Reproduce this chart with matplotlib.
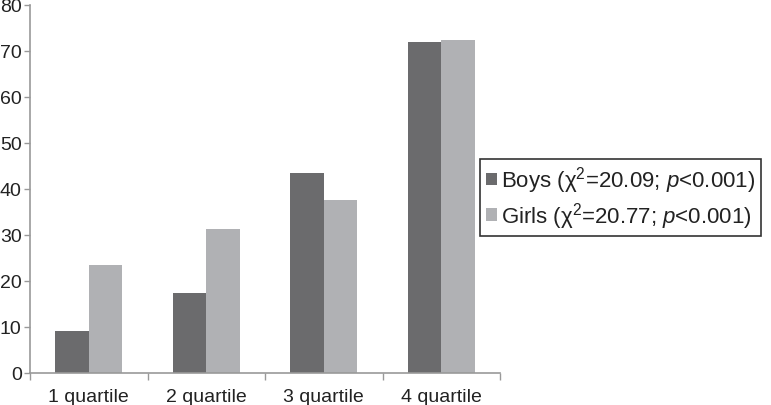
import matplotlib
matplotlib.use("Agg")
import matplotlib.pyplot as plt
import numpy as np

categories = ["1 quartile", "2 quartile", "3 quartile", "4 quartile"]
boys = [9.2, 17.5, 43.5, 72.0]
girls = [23.5, 31.2, 37.6, 72.4]
boys_label = "Boys ($\\mathrm{\\chi}^{2}$=20.09; $\\mathit{p}$<0.001)"
girls_label = "Girls ($\\mathrm{\\chi}^{2}$=20.77; $\\mathit{p}$<0.001)"
yticks = [0, 10, 20, 30, 40, 50, 60, 70, 80]

plt.rcParams['font.family'] = ['Liberation Sans', 'DejaVu Sans']
plt.rcParams['mathtext.fontset'] = 'custom'
plt.rcParams['mathtext.rm'] = 'Liberation Sans'
plt.rcParams['mathtext.it'] = 'Liberation Sans:italic'

W, H = 771, 406
fig = plt.figure(figsize=(W / 100, H / 100), dpi=100)
ax = fig.add_axes([30 / W, (H - 374) / H, 470 / W, 368 / H])

x = np.arange(len(categories))
bw = 0.285
dark = "#6b6b6d"
light = "#b0b1b4"
ax.bar(x - bw / 2, boys, bw, color=dark, label=boys_label)
ax.bar(x + bw / 2, girls, bw, color=light, label=girls_label)

ax.set_xlim(-0.5, len(categories) - 0.5)
ax.set_ylim(0, 80)
ax.set_yticks(yticks)

ax.set_xticks(np.arange(-0.5, len(categories), 1.0))
ax.set_xticklabels([])
ax.set_xticks(x, minor=True)
ax.set_xticklabels(categories, minor=True)
ax.tick_params(axis='x', which='minor', length=0, pad=11, labelsize=14, colors='#222222')
ax.tick_params(axis='x', which='major', length=5, width=1, color='#999999')
ax.tick_params(axis='y', length=4, width=1, color='#999999', labelsize=14, labelcolor='#222222', pad=2)

for s in ['top', 'right']:
    ax.spines[s].set_visible(False)
for s in ['left', 'bottom']:
    ax.spines[s].set_color('#999999')
    ax.spines[s].set_linewidth(1.2)

leg = fig.legend(loc='upper left', bbox_to_anchor=(480 / W, 1 - 160 / H), bbox_transform=fig.transFigure,
                 fancybox=False, frameon=True, edgecolor='black', fontsize=16,
                 handlelength=0.5, handleheight=0.5, handletextpad=0.2, labelspacing=0.2,
                 borderpad=0.25, borderaxespad=0)
leg.get_frame().set_linewidth(1.2)
for t in leg.get_texts():
    t.set_color('#222222')

fig.savefig("out.png", dpi=100)
